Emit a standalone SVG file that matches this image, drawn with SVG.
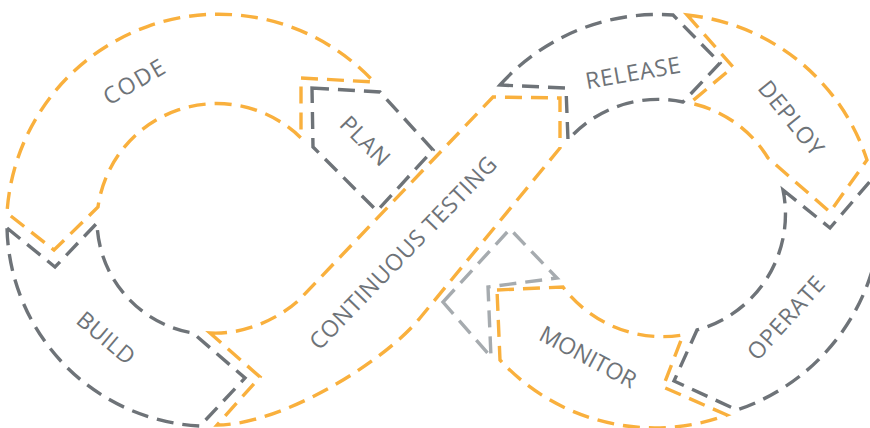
<svg xmlns="http://www.w3.org/2000/svg" width="870" height="428" viewBox="0 0 870 428">
<style>
.o{fill:none;stroke:#F9B03D;stroke-width:3.4;stroke-dasharray:17 9;stroke-linejoin:miter}
.g{fill:none;stroke:#6E7378;stroke-width:3.4;stroke-dasharray:17 9;stroke-linejoin:miter}
.lg{fill:none;stroke:#A6ABAF;stroke-width:3.4;stroke-dasharray:17 9;stroke-linejoin:miter}
.t{font-family:"Open Sans",Lato,sans-serif;font-size:23px;fill:#6E7378;text-anchor:middle}
</style>
<rect width="870" height="428" fill="#FFFFFF"/>
<g id="crossing">
<path class="lg" d="M443,302 L510,229 L557,278 L488,287 L491,357 Z"/>
</g>
<g id="code">
<path class="o" d="M301,78 L374,82 A212 212 0 0 0 7,213 L54,250 L98,207 A120 120 0 0 1 301,138 Z"/>
<text class="t" transform="translate(134,82) rotate(-30)" dy="8" textLength="67" lengthAdjust="spacing">CODE</text>
</g>
<g id="build">
<path class="g" d="M7,228 L55,267 L97,223 A115 115 0 0 0 193,333 L245,378 L200,426 A203 203 0 0 1 7,228 Z"/>
<text class="t" transform="translate(106,338) rotate(40)" dy="8" textLength="68" lengthAdjust="spacing">BUILD</text>
</g>
<g id="plan">
<path class="g" d="M312,88 L380,92 L433,150 L377,211 L313,147 Z"/>
<text class="t" transform="translate(365,141) rotate(45)" dy="8" textLength="60" lengthAdjust="spacing">PLAN</text>
</g>
<g id="continuous-testing">
<path class="o" d="M210,333 C245,335 280,318 300,299 L493,97 L560,98 L560,148 L420,318 C382,364 280,425 217,425 L260,377 Z"/>
<text class="t" transform="translate(403,253) rotate(-46)" dy="8" textLength="258" lengthAdjust="spacing">CONTINUOUS TESTING</text>
</g>
<g id="release">
<path class="g" d="M500,85 A212 212 0 0 1 673,15 L720,63 L683,102 A120 120 0 0 0 568,140 L566,88 Z"/>
<text class="t" transform="translate(633,73) rotate(-10)" dy="8" textLength="96" lengthAdjust="spacing">RELEASE</text>
</g>
<g id="deploy">
<path class="o" d="M687,15 L733,67 L690,103 A120 120 0 0 1 768,158 L830,212 L867,160 A212 212 0 0 0 687,15 Z"/>
<text class="t" transform="translate(791,118) rotate(51)" dy="8" textLength="89" lengthAdjust="spacing">DEPLOY</text>
</g>
<g id="operate">
<path class="g" d="M783,190 L830,228 L878,172 A212 212 0 0 1 737,410 L674,381 L697,330 A120 120 0 0 0 783,190 Z"/>
<text class="t" transform="translate(786,318) rotate(-48)" dy="8" textLength="103" lengthAdjust="spacing">OPERATE</text>
</g>
<g id="monitor">
<path class="o" d="M497,290 L563,287 A125 125 0 0 0 683,335 L663,387 L727,415 A210 210 0 0 1 500,360 Z"/>
<text class="t" transform="translate(588,357) rotate(28)" dy="8" textLength="106" lengthAdjust="spacing">MONITOR</text>
</g>
<g id="connectors"></g>
</svg>
